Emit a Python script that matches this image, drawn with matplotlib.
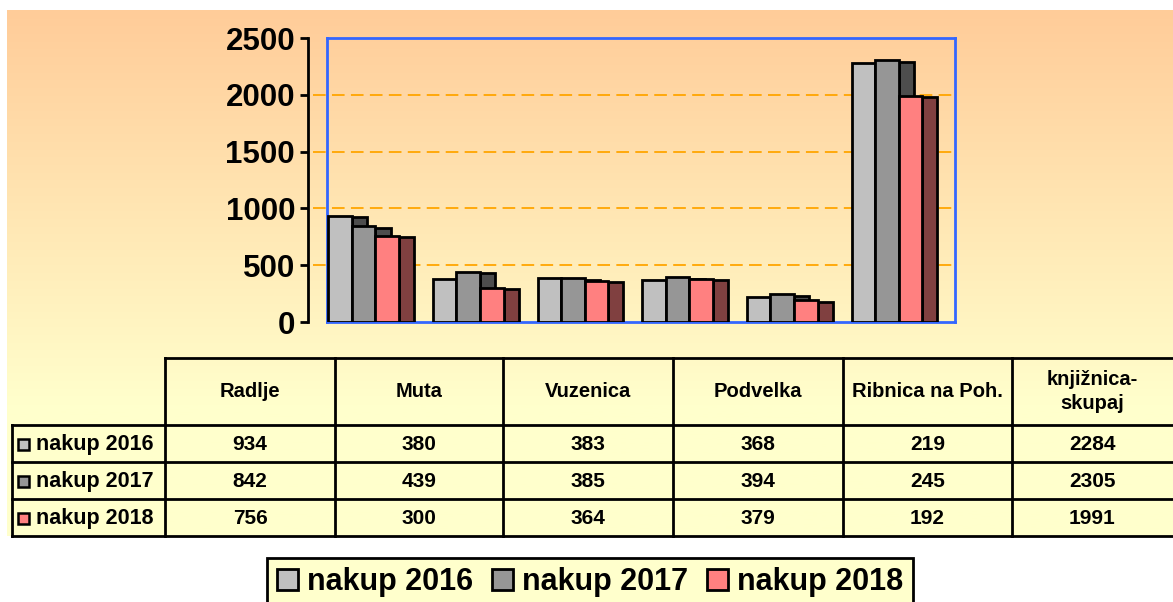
import numpy as np
import matplotlib.pyplot as plt
from matplotlib import font_manager
from matplotlib.patches import Patch, Rectangle
from matplotlib.colors import to_rgb

categories = ['Radlje', 'Muta', 'Vuzenica', 'Podvelka', 'Ribnica na Poh.', 'knjižnica-\nskupaj']
series = ['nakup 2016', 'nakup 2017', 'nakup 2018']
nakup_2016 = [934, 380, 383, 368, 219, 2284]
nakup_2017 = [842, 439, 385, 394, 245, 2305]
nakup_2018 = [756, 300, 364, 379, 192, 1991]
values = [nakup_2016, nakup_2017, nakup_2018]
yticks = [0, 500, 1000, 1500, 2000, 2500]

front_cols = ['#C0C0C0', '#969696', '#FF8080']
side_cols = ['#4D4D4D', '#4D4D4D', '#804040']

names = {f.name for f in font_manager.fontManager.ttflist}
narrow = 'Liberation Sans Narrow' if 'Liberation Sans Narrow' in names else 'Liberation Sans'
plt.rcParams['font.family'] = ['Liberation Sans', 'DejaVu Sans']

W, H = 1173, 602
fig = plt.figure(figsize=(W / 100, H / 100), dpi=100)

# background and table, drawn in pixel coordinates
bg = fig.add_axes([0, 0, 1, 1])
bg.set_xlim(0, W)
bg.set_ylim(H, 0)
bg.axis('off')
top = np.array(to_rgb('#FFCC99'))
bot = np.array(to_rgb('#FFFFCC'))
t = np.clip(np.linspace(0, 1, 300) / 0.75, 0, 1)[:, None]
grad = (top * (1 - t) + bot * t)[:, None, :]
bg.imshow(grad, extent=[7, W, 536, 10], aspect='auto', zorder=0)

col_x = [165, 335, 503, 673, 843, 1012, 1180]
row_y = [358, 425, 462, 499, 536]
lw = 2
for x in col_x:
    bg.plot([x, x], [row_y[0], row_y[-1]], color='black', lw=lw, zorder=2)
for y in row_y:
    x0 = 165 if y == row_y[0] else 12
    bg.plot([x0, 1180], [y, y], color='black', lw=lw, zorder=2)
bg.plot([12, 12], [row_y[1], row_y[-1]], color='black', lw=lw, zorder=2)

for i, cat in enumerate(categories):
    cx = (col_x[i] + col_x[i + 1]) / 2 if i < 5 else 1092
    bg.text(cx, (row_y[0] + row_y[1]) / 2, cat, ha='center', va='center',
            fontsize=14.5, fontweight='bold', linespacing=1.35, zorder=3)
    for j in range(3):
        bg.text(cx, (row_y[j + 1] + row_y[j + 2]) / 2 + 1, str(values[j][i]),
                ha='center', va='center', fontsize=15, fontweight='bold', zorder=3)
for j, name in enumerate(series):
    yc = (row_y[j + 1] + row_y[j + 2]) / 2
    bg.add_patch(Rectangle((18, yc - 5), 11, 11, facecolor=front_cols[j],
                           edgecolor='black', lw=1.8, zorder=3))
    bg.text(36, yc + 1, name, ha='left', va='center', fontsize=15.5,
            fontweight='bold', zorder=3)

# chart
ax = fig.add_axes([327 / W, (H - 322) / H, 628 / W, 284 / H])
ax.set_facecolor('none')
ax.set_xlim(0, 6)
ax.set_ylim(0, 2500)

x = np.arange(len(categories))
w = 0.225
d = 0.145
off = 0.012
for j in range(3):
    left = x + off + j * w
    ax.bar(left + w, np.array(values[j]) - 12, width=d, align='edge',
           color=side_cols[j], edgecolor='black', lw=2, zorder=3 + 2 * j)
    ax.bar(left, values[j], width=w, align='edge', color=front_cols[j],
           edgecolor='black', lw=2, zorder=4 + 2 * j)

for s in ['top', 'right', 'bottom']:
    ax.spines[s].set_color('#3366FF')
    ax.spines[s].set_linewidth(2)
ax.spines['left'].set_position(('outward', 14))
ax.spines['left'].set_color('black')
ax.spines['left'].set_linewidth(2)
ax.axvline(0, color='#3366FF', lw=2, clip_on=False, zorder=2)

for yv in yticks[1:-1]:
    ax.plot([-14 / 628, 1], [yv, yv], transform=ax.get_yaxis_transform(),
            color='#FFA500', lw=1.3, ls=(0, (7, 3.5)), clip_on=False, zorder=1)

ax.set_xticks([])
ax.set_yticks(yticks)
ax.set_yticklabels([str(v) for v in yticks], fontsize=22.5, fontweight='bold')
ax.tick_params(axis='y', length=6, width=2, pad=3)

handles = [Patch(facecolor=front_cols[j], edgecolor='black', lw=2, label=series[j])
           for j in range(3)]
leg = fig.legend(handles=handles, loc='upper center', ncol=3,
                 bbox_to_anchor=(590 / W, 1 - 558 / H), frameon=True, fancybox=False,
                 prop={'family': narrow, 'weight': 'bold', 'size': 22},
                 handlelength=0.7, handleheight=0.7, handletextpad=0.3,
                 columnspacing=0.6, borderpad=0.3, borderaxespad=0)
leg.get_frame().set_facecolor('#FFFFCC')
leg.get_frame().set_edgecolor('black')
leg.get_frame().set_linewidth(2)
leg.get_frame().set_alpha(1)

fig.savefig('out.png', dpi=100)
